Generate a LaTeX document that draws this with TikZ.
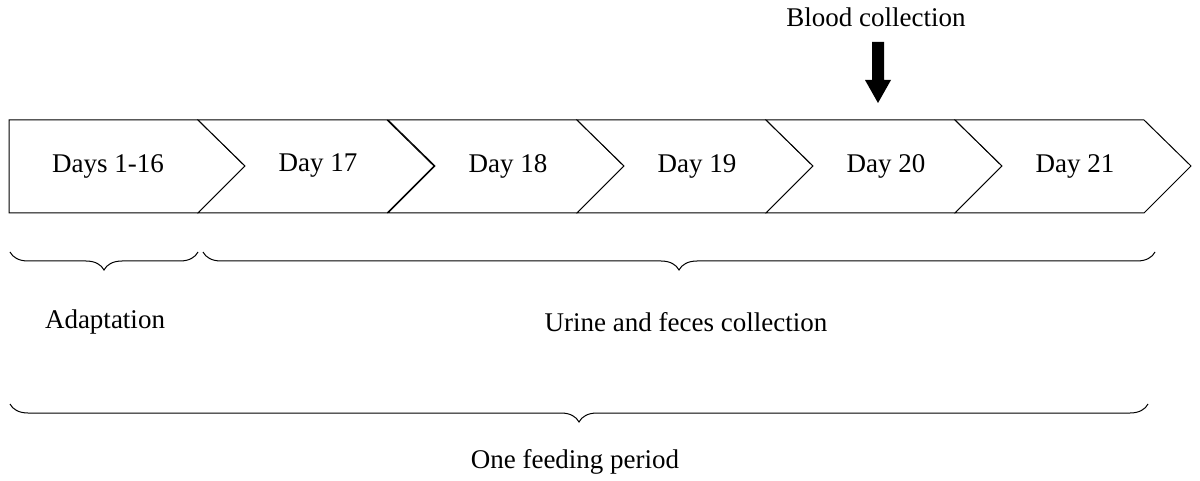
\documentclass[tikz,border=0pt]{standalone}
\usepackage{fontspec}
\setmainfont{Liberation Serif}
\usetikzlibrary{decorations.pathreplacing}
\begin{document}
\begin{tikzpicture}[x=1pt,y=-1pt,
  chev/.style={draw,line width=1pt,fill=white},
  lbl/.style={font=\fontsize{27}{30}\selectfont},
  brc/.style={draw,line width=1pt,decorate,decoration={brace,mirror,amplitude=18pt}}]
\useasboundingbox (0,0) rectangle (1200,481);
\draw[chev] (9,120) -- (198,120) -- (245,166) -- (198,213) -- (9,213) -- cycle;
\node[lbl] (d1) at (108,166) {Days 1-16};
\foreach \x/\t/\n in {198/Day 17/d2,388/Day 18/d3,577/Day 19/d4,766/Day 20/d5,955/Day 21/d6}{
  \draw[chev] (\x,120) -- (\x+189,120) -- (\x+236,166) -- (\x+189,213) -- (\x,213) -- (\x+47,166) -- cycle;
  \node[lbl] (\n) at (\x+120,166) {\t};
}
\coordinate (a1) at (10,252); \coordinate (a2) at (198,252);
\coordinate (b1) at (203,252); \coordinate (b2) at (1155,252);
\coordinate (c1) at (10,404); \coordinate (c2) at (1148,404);
\draw[brc] (a1) -- (a2);
\draw[brc] (b1) -- (b2);
\draw[brc] (c1) -- (c2);
\node[lbl] (ad) at (105,322) {Adaptation};
\node[lbl] (ur) at (686,322) {Urine and feces collection};
\node[lbl] (of) at (575,462) {One feeding period};
\node[lbl] (bc) at (876,17) {Blood collection};
\fill (872,42) -- (884,42) -- (884,80) -- (891,80) -- (878,103) -- (865,80) -- (872,80) -- cycle;
\end{tikzpicture}
\end{document}
